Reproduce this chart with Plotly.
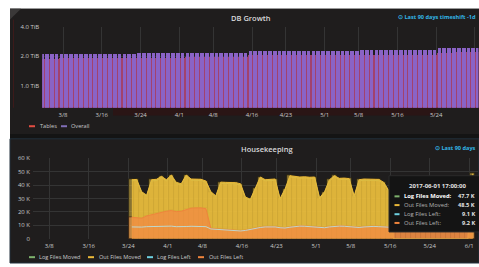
import math
import pandas as pd
import plotly.graph_objects as go

W, H = 479, 267

# ---------------- data ----------------
tick_dates = ['2017-03-08', '2017-03-16', '2017-03-24', '2017-04-01', '2017-04-08', '2017-04-16',
              '2017-04-23', '2017-05-01', '2017-05-08', '2017-05-16', '2017-05-24', '2017-06-01']
tick_labels = ['3/8', '3/16', '3/24', '4/1', '4/8', '4/16', '4/23', '5/1', '5/8', '5/16', '5/24', '6/1']

db_dates = pd.date_range('2017-03-03 17:00', '2017-06-01 17:00', freq='D')
overall_tib = [
    # Mar 3 - Mar 31
    2.08, 2.08, 2.08, 2.09, 2.09, 2.09, 2.09, 2.10, 2.10, 2.10, 2.10, 2.11, 2.11, 2.11, 2.11,
    2.12, 2.12, 2.12, 2.12, 2.12, 2.13, 2.13, 2.13, 2.13, 2.14, 2.14, 2.14, 2.14, 2.14,
    # Apr 1 - Apr 30
    2.14, 2.15, 2.15, 2.15, 2.15, 2.15, 2.16, 2.16, 2.16, 2.16, 2.16, 2.17, 2.17, 2.17,
    2.27, 2.27, 2.27, 2.27, 2.27, 2.27, 2.27, 2.27, 2.28, 2.28, 2.28, 2.28, 2.28, 2.28, 2.28, 2.28,
    # May 1 - May 31
    2.28, 2.28, 2.28, 2.28, 2.28, 2.28, 2.28, 2.29, 2.29, 2.29, 2.29, 2.29, 2.29, 2.29, 2.29,
    2.29, 2.29, 2.29, 2.29, 2.29, 2.29, 2.29, 2.29,
    2.41, 2.41, 2.41, 2.41, 2.42, 2.42, 2.42, 2.42,
    # Jun 1
    2.42,
]
tables_tib = [
    1.88, 1.88, 1.88, 1.88, 1.89, 1.89, 1.89, 1.89, 1.89, 1.90, 1.90, 1.90, 1.90, 1.90, 1.91,
    1.91, 1.91, 1.91, 1.91, 1.92, 1.92, 1.92, 1.92, 1.92, 1.93, 1.93, 1.93, 1.93, 1.93,
    1.93, 1.94, 1.94, 1.94, 1.94, 1.94, 1.95, 1.95, 1.95, 1.95, 1.95, 1.96, 1.96, 1.96,
    2.05, 2.05, 2.05, 2.05, 2.05, 2.05, 2.05, 2.05, 2.06, 2.06, 2.06, 2.06, 2.06, 2.06, 2.06, 2.06,
    2.06, 2.06, 2.06, 2.06, 2.06, 2.06, 2.06, 2.07, 2.07, 2.07, 2.07, 2.07, 2.07, 2.07, 2.07,
    2.07, 2.07, 2.07, 2.07, 2.07, 2.07, 2.07, 2.07,
    2.17, 2.17, 2.17, 2.17, 2.18, 2.18, 2.18, 2.18,
    2.18,
]

hk_dates = pd.date_range('2017-03-24 17:00', '2017-06-01 17:00', freq='D')
out_files_moved = [
    44.0, 44.2, 35.0, 32.5, 44.0, 44.3, 46.5, 44.0, 47.5, 42.0, 41.0, 47.5, 44.5, 44.6, 44.3,
    43.0, 35.0, 32.0, 42.2, 42.0, 42.1, 41.8, 41.0, 31.0, 29.5, 38.0, 46.0, 44.0, 44.2, 44.5,
    30.0, 37.0, 47.0, 46.5, 46.0, 46.2, 45.8, 46.0, 30.5, 35.0, 44.0, 47.0, 45.0, 45.2, 44.8,
    32.0, 44.0, 44.5, 44.3, 44.6, 44.2, 42.0, 36.0,
    0, 0, 0, 0, 0, 0, 0, 0, 0, 0, 0, 0, 0, 0, 0, 0,
    48.5,
]
log_files_moved = [
    43.2, 43.5, 34.1, 31.8, 43.1, 43.4, 45.6, 43.2, 46.6, 41.1, 40.2, 46.7, 43.6, 43.8, 43.5,
    42.1, 34.2, 31.1, 41.4, 41.2, 41.3, 40.9, 40.1, 30.2, 28.8, 37.1, 45.1, 43.2, 43.3, 43.6,
    29.1, 36.2, 46.1, 45.7, 45.1, 45.4, 44.9, 45.1, 29.7, 34.2, 43.1, 46.2, 44.1, 44.3, 43.9,
    31.2, 43.1, 43.6, 43.5, 43.7, 43.3, 41.1, 35.2,
    0, 0, 0, 0, 0, 0, 0, 0, 0, 0, 0, 0, 0, 0, 0, 0,
    47.7,
]
out_files_left = [
    16.0, 15.6, 15.3, 17.0, 18.0, 19.0, 19.8, 20.5, 21.0, 20.2, 20.5, 21.7, 22.8, 23.0, 23.0,
    22.4, 7.6, 7.4, 7.2, 7.0, 6.6, 6.2, 6.0, 6.4, 7.2, 8.0, 8.6, 9.0, 9.2, 9.0,
    8.4, 8.2, 8.8, 9.4, 9.6, 9.5, 9.3, 9.0, 8.6, 8.4, 9.0, 9.4, 9.6, 9.5, 9.2,
    8.8, 8.6, 9.0, 9.3, 9.4, 9.2, 9.0, 8.7, 8.6, 8.5, 8.7, 8.9, 9.0, 8.8, 8.6,
    8.5, 8.7, 8.9, 9.0, 9.1, 9.0, 8.9, 9.0, 9.1, 9.2,
]
log_files_left = [
    8.8, 8.6, 8.7, 9.0, 9.1, 9.2, 9.3, 9.4, 9.4, 9.0, 8.8, 9.1, 9.3, 9.2, 9.1,
    9.0, 7.3, 7.1, 6.9, 6.7, 6.4, 6.0, 5.8, 6.2, 7.0, 7.8, 8.4, 8.8, 9.0, 8.8,
    8.2, 8.0, 8.6, 9.2, 9.4, 9.3, 9.1, 8.8, 8.4, 8.2, 8.8, 9.2, 9.4, 9.3, 9.0,
    8.6, 8.4, 8.8, 9.1, 9.2, 9.0, 8.8, 8.5, 8.4, 8.3, 8.5, 8.7, 8.8, 8.6, 8.4,
    8.3, 8.5, 8.7, 8.8, 8.9, 8.8, 8.7, 8.8, 8.9, 9.1,
]
k_ticks = [0, 10, 20, 30, 40, 50, 60]
k_labels = ['0', '10 K', '20 K', '30 K', '40 K', '50 K', '60 K']

# ---------------- styling ----------------
PAGE = '#ffffff'
GAP = '#141414'
PANEL = '#1f1d1d'
GRID = '#343434'
TXT = '#c8c9ca'
FONT = 'Open Sans'
DAY_MS = 86400000

def px_x(p):
    return p / W

def px_y(p):
    return 1 - p / H

fig = go.Figure()

# top panel bars
fig.add_trace(go.Bar(x=db_dates, y=tables_tib, width=DAY_MS * 1.0, marker=dict(color='#a2426e', line=dict(width=0)),
                     xaxis='x', yaxis='y', showlegend=False, name='Tables'))
fig.add_trace(go.Bar(x=db_dates, y=overall_tib, width=DAY_MS * 0.78, marker=dict(color='#8a63c6', line=dict(width=0)),
                     xaxis='x', yaxis='y', showlegend=False, name='Overall'))

# bottom panel
hk_k = dict(xaxis='x2', yaxis='y2', showlegend=False)
fig.add_trace(go.Scatter(x=hk_dates, y=log_files_moved, mode='lines', line=dict(color='#7EB26D', width=1), **hk_k))
fig.add_trace(go.Scatter(x=hk_dates, y=out_files_moved, mode='lines', fill='tozeroy',
                         fillcolor='rgba(236,190,60,0.85)', line=dict(color='#EAB839', width=1), **hk_k))
fig.add_trace(go.Bar(x=hk_dates, y=out_files_moved, width=DAY_MS,
                     marker=dict(color='rgba(240,200,70,0.5)', line=dict(color='rgba(25,22,10,0.8)', width=0.8)), **hk_k))
fig.add_trace(go.Scatter(x=hk_dates, y=out_files_left, mode='lines', fill='tozeroy',
                         fillcolor='rgba(239,140,66,0.8)', line=dict(color='#EF843C', width=1), **hk_k))
fig.add_trace(go.Bar(x=hk_dates, y=out_files_left, width=DAY_MS,
                     marker=dict(color='rgba(240,150,80,0.55)', line=dict(color='rgba(40,20,10,0.75)', width=0.8)), **hk_k))
fig.add_trace(go.Scatter(x=hk_dates, y=log_files_left, mode='lines', line=dict(color='#b5e9f0', width=1), opacity=0.8, **hk_k))

# ---------------- panels / decorations ----------------
shapes = [
    dict(type='rect', xref='paper', yref='paper', x0=px_x(10), x1=1, y0=0, y1=px_y(5), fillcolor=GAP, line=dict(width=0), layer='below'),
    dict(type='rect', xref='paper', yref='paper', x0=px_x(10), x1=1, y0=px_y(134), y1=px_y(5), fillcolor=PANEL, line=dict(width=0), layer='below'),
    dict(type='rect', xref='paper', yref='paper', x0=px_x(10), x1=1, y0=0, y1=px_y(139), fillcolor=PANEL,
         line=dict(width=1, color='#22303c'), layer='below'),
    dict(type='rect', xref='paper', yref='paper', x0=px_x(113), x1=px_x(437), y0=px_y(115), y1=px_y(107),
         fillcolor='#2a1515', line=dict(width=0), layer='below'),
    dict(type='line', xref='paper', yref='paper', x0=px_x(13.5), x1=px_x(13.5), y0=px_y(107), y1=px_y(16),
         line=dict(color='#3c1a1a', width=1), layer='below'),
    dict(type='path', xref='paper', yref='paper',
         path=f'M {px_x(10)},{px_y(5)} L {px_x(21)},{px_y(5)} L {px_x(10)},{px_y(16)} Z',
         fillcolor='#3a3838', line=dict(width=0), layer='below'),
]

annotations = [
    dict(text='DB Growth', x=px_x(250.5), y=px_y(14)),
    dict(text='Housekeeping', x=px_x(267), y=px_y(149)),
]
for a in annotations:
    a.update(xref='paper', yref='paper', showarrow=False, xanchor='center', yanchor='middle',
             font=dict(family=FONT, size=7.5, color='#d8d9da', weight=600))

for (xx, yy, txt) in [(396, 13, '⊙ Last 90 days timeshift -1d'), (433, 148, '⊙ Last 90 days')]:
    annotations.append(dict(text=txt, x=px_x(xx), y=px_y(yy), xref='paper', yref='paper',
                            showarrow=False, xanchor='left', yanchor='middle',
                            font=dict(family=FONT, size=5.6, color='#33b5e5', weight=700)))

legend_items = [
    (29, 37.5, 126, '#E24D42', 'Tables'),
    (61, 69, 126, '#806EB7', 'Overall'),
    (29, 36.5, 261, '#7EB26D', 'Log Files Moved'),
    (88, 96.5, 261, '#EAB839', 'Out Files Moved'),
    (147, 155, 261, '#6ED0E0', 'Log Files Left'),
    (198, 206.5, 261, '#EF843C', 'Out Files Left'),
]
for x0, tx, yy, col, name in legend_items:
    shapes.append(dict(type='line', xref='paper', yref='paper', x0=px_x(x0), x1=px_x(x0 + 6), y0=px_y(yy), y1=px_y(yy),
                       line=dict(color=col, width=2)))
    annotations.append(dict(text=name, x=px_x(tx), y=px_y(yy), xref='paper', yref='paper', showarrow=False,
                            xanchor='left', yanchor='middle', font=dict(family=FONT, size=5.6, color=TXT)))

# tooltip box
shapes.append(dict(type='rect', xref='paper', yref='paper', x0=px_x(389), x1=px_x(482), y0=px_y(235), y1=px_y(177),
                   fillcolor='#141414', line=dict(color='#2b2b2b', width=1)))
annotations.append(dict(text='2017-06-01 17:00:00', x=px_x(437.7), y=px_y(187.5), xref='paper', yref='paper',
                        showarrow=False, xanchor='center', yanchor='middle',
                        font=dict(family=FONT, size=6, color='#e3e3e3', weight=700)))
tip_rows = [
    (198.3, '#7EB26D', 'Log Files Moved:', '47.7 K', True),
    (207.3, '#EAB839', 'Out Files Moved:', '48.5 K', False),
    (216.7, '#6ED0E0', 'Log Files Left:', '9.1 K', False),
    (225.7, '#EF843C', 'Out Files Left:', '9.2 K', False),
]
for yy, col, lab, val, hl in tip_rows:
    shapes.append(dict(type='line', xref='paper', yref='paper', x0=px_x(394.5), x1=px_x(399.5), y0=px_y(yy), y1=px_y(yy),
                       line=dict(color=col, width=2)))
    annotations.append(dict(text=lab, x=px_x(402), y=px_y(yy), xref='paper', yref='paper', showarrow=False,
                            xanchor='left', yanchor='middle',
                            font=dict(family=FONT, size=5.8, color='#ffffff' if hl else '#b5b5b5', weight=700 if hl else 400)))
    annotations.append(dict(text=val, x=px_x(477), y=px_y(yy), xref='paper', yref='paper', showarrow=False,
                            xanchor='right', yanchor='middle',
                            font=dict(family=FONT, size=5.6, color='#e3e3e3', weight=700)))

axis_common = dict(showline=False, zeroline=False, ticks='', showgrid=True, gridcolor=GRID, gridwidth=1,
                   tickfont=dict(family=FONT, size=6, color=TXT), fixedrange=True)

fig.update_layout(
    width=W, height=H, autosize=False,
    margin=dict(l=0, r=0, t=0, b=0),
    paper_bgcolor=PAGE, plot_bgcolor='rgba(0,0,0,0)',
    barmode='overlay', bargap=0,
    showlegend=False,
    shapes=shapes, annotations=annotations,
    xaxis=dict(domain=[px_x(42.2), px_x(478.4)], anchor='y', type='date',
               range=['2017-03-03 17:00', '2017-06-01 17:00'],
               tickvals=tick_dates, ticktext=tick_labels, ticklabelstandoff=2, **axis_common),
    yaxis=dict(domain=[px_y(107), px_y(24)], anchor='x', type='log',
               range=[math.log10(4) - 83 / 30 * math.log10(2), math.log10(4)],
               tickvals=[1, 2, 4], ticktext=['1.0 TiB', '2.0 TiB', '4.0 TiB'], ticklabelstandoff=2, **axis_common),
    xaxis2=dict(domain=[px_x(33), px_x(477.7)], anchor='y2', type='date',
                range=['2017-03-04 17:00', '2017-06-02 17:00'],
                tickvals=tick_dates, ticktext=tick_labels, ticklabelstandoff=2, **axis_common),
    yaxis2=dict(domain=[px_y(242), px_y(159)], anchor='x2', range=[0, 60],
                tickvals=k_ticks, ticktext=k_labels, ticklabelstandoff=2, **axis_common),
)

fig.write_html('out.html', config={'displayModeBar': False},
               post_script="document.body.style.margin='0px';document.body.style.padding='0px';")
